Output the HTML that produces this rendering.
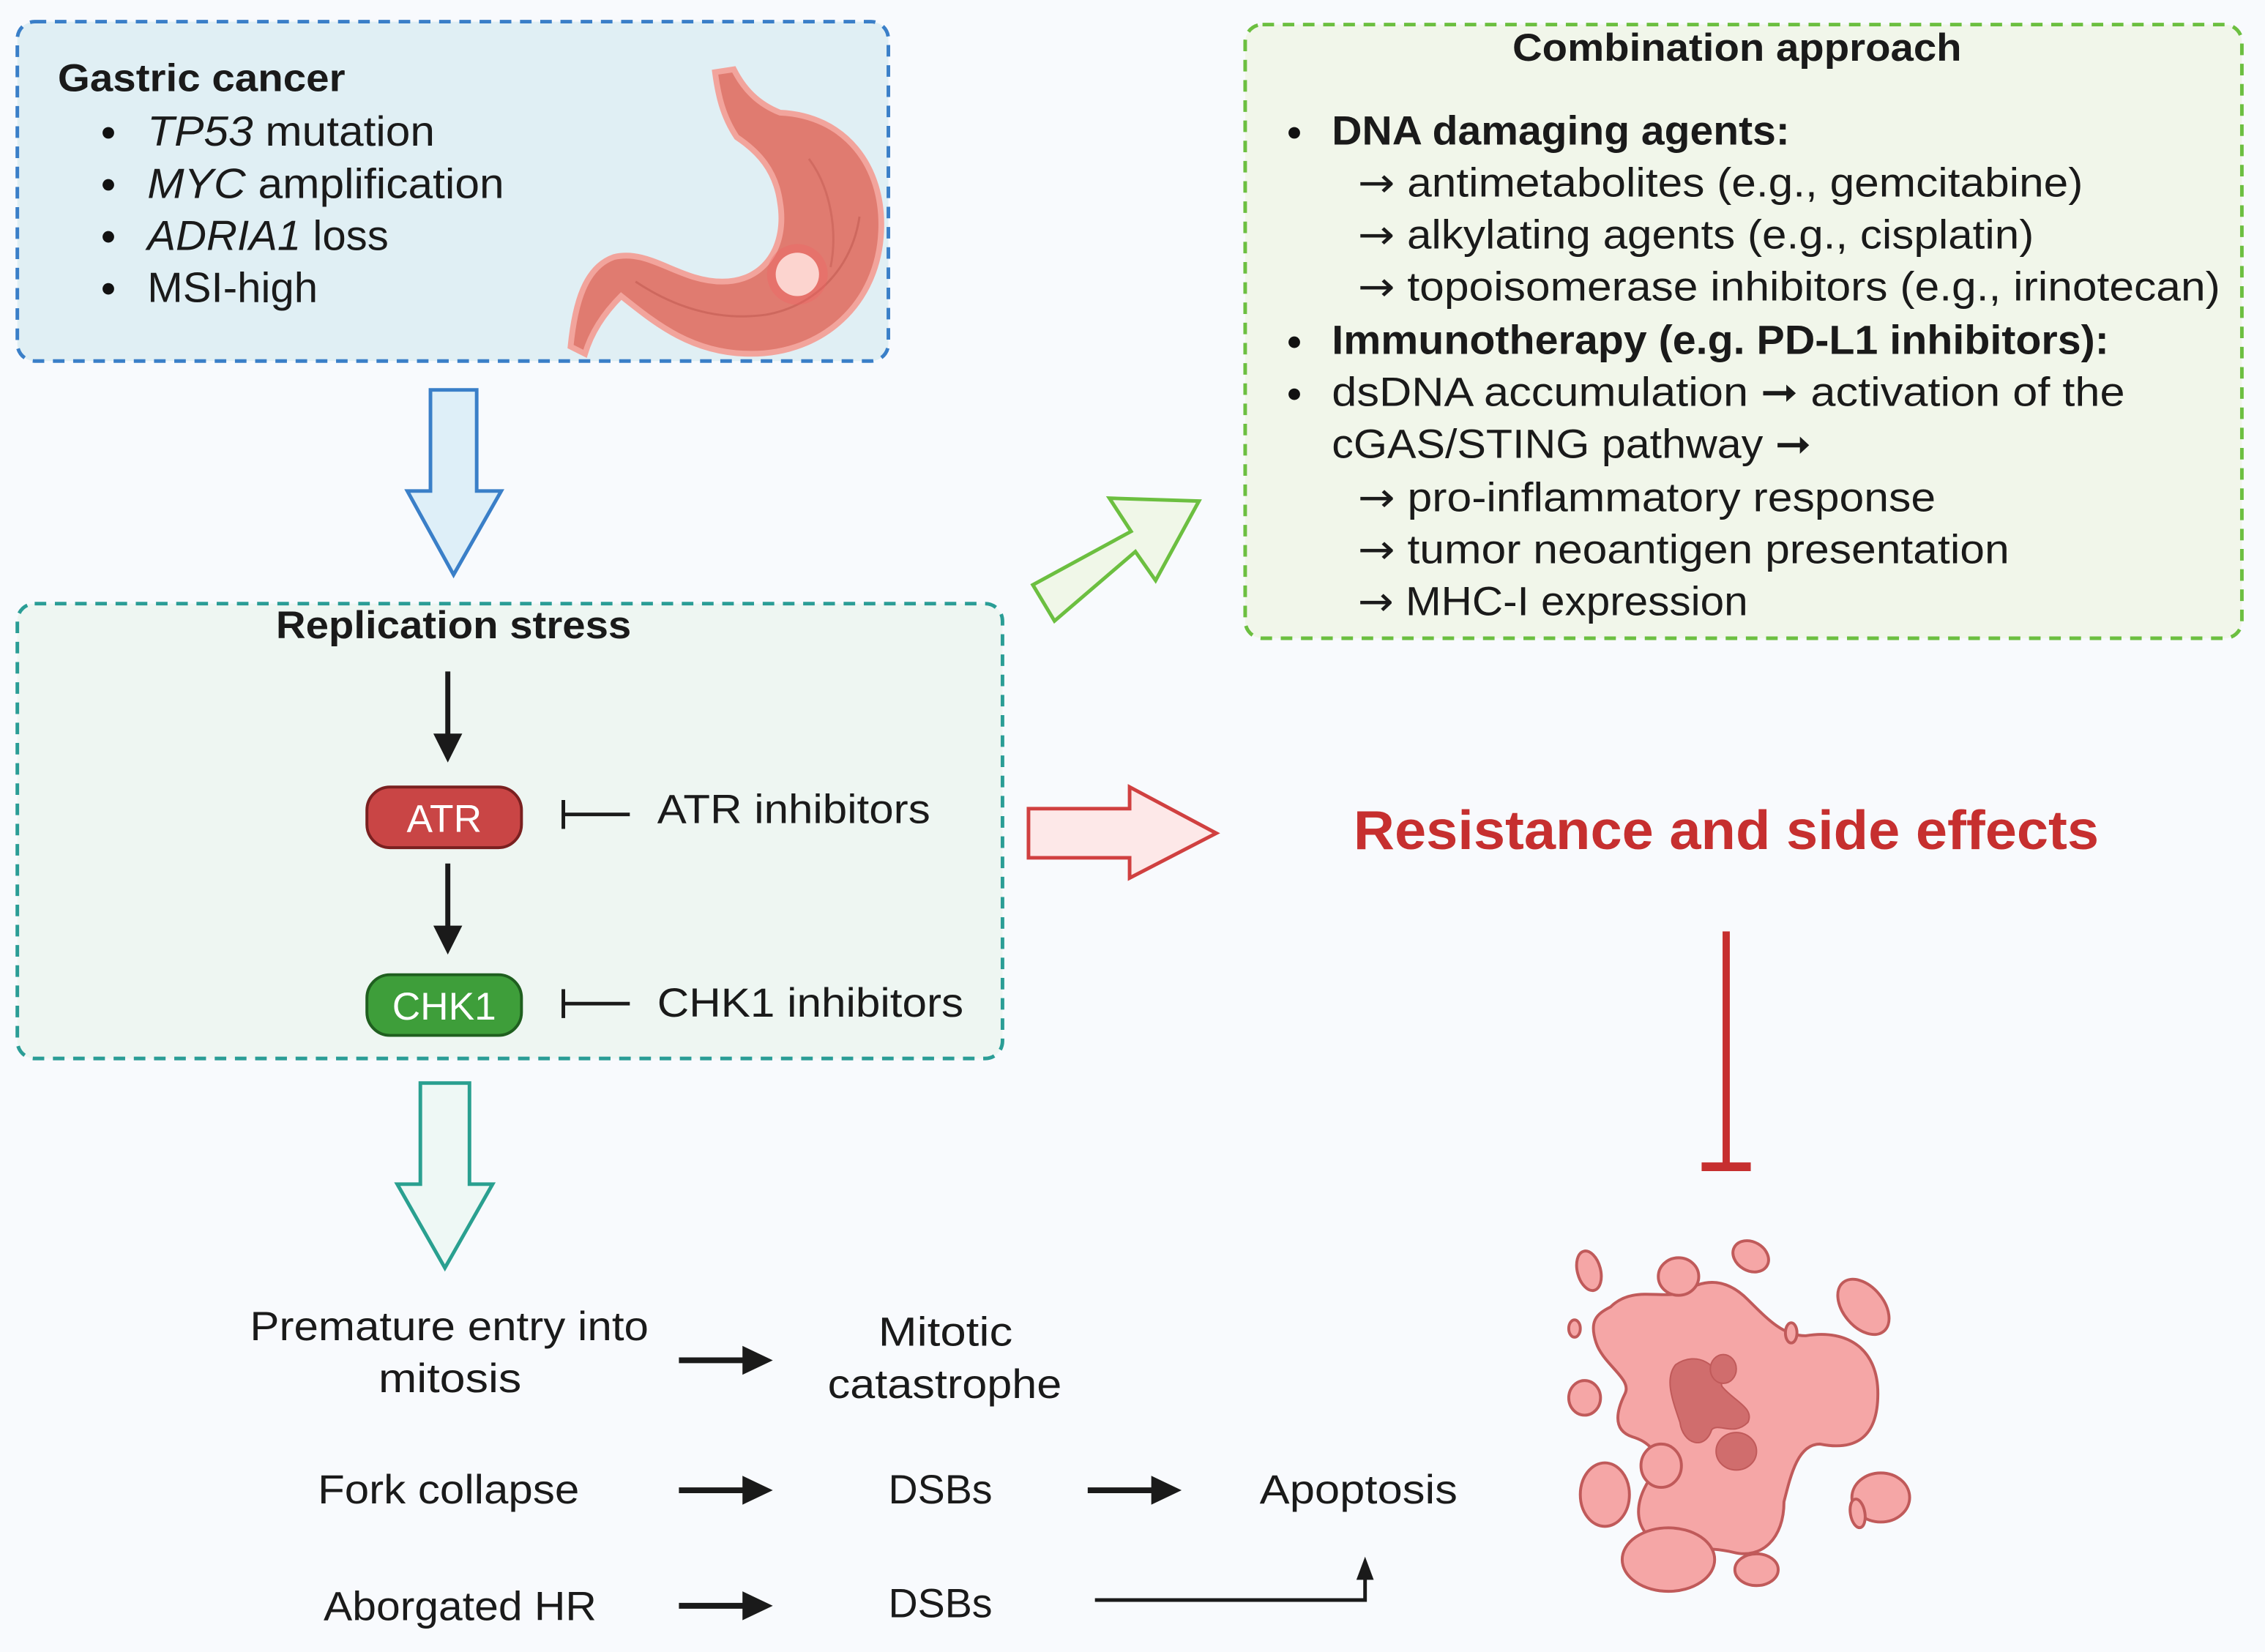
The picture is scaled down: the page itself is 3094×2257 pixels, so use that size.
<!DOCTYPE html>
<html><head><meta charset="utf-8"><style>
html,body{margin:0;padding:0;background:#f8fafd;}
svg{display:block;}
text{font-family:"Liberation Sans",Arial,sans-serif;fill:#1a1a1a;}
.b{font-weight:bold;}
.ar{font-family:"DejaVu Sans",sans-serif;}
</style></head><body>
<svg width="3094" height="2257" viewBox="0 0 1568 1144" preserveAspectRatio="none" xmlns="http://www.w3.org/2000/svg">
<rect width="1568" height="1144" fill="#f8fafd"/>

<!-- Gastric box -->
<rect x="12" y="15" width="603" height="235" rx="12" fill="#e0eff4" stroke="#3a7fc8" stroke-width="2.5" stroke-dasharray="8,6"/>
<text x="40" y="63" font-size="27" class="b" textLength="199" lengthAdjust="spacingAndGlyphs">Gastric cancer</text>
<g font-size="29">
<circle cx="75" cy="92" r="4" fill="#111"/><text x="102" y="101" textLength="199" lengthAdjust="spacingAndGlyphs"><tspan font-style="italic">TP53</tspan> mutation</text>
<circle cx="75" cy="128" r="4" fill="#111"/><text x="102" y="137" textLength="247" lengthAdjust="spacingAndGlyphs"><tspan font-style="italic">MYC</tspan> amplification</text>
<circle cx="75" cy="164" r="4" fill="#111"/><text x="102" y="173" textLength="167" lengthAdjust="spacingAndGlyphs"><tspan font-style="italic">ADRIA1</tspan> loss</text>
<circle cx="75" cy="200" r="4" fill="#111"/><text x="102" y="209" textLength="118" lengthAdjust="spacingAndGlyphs">MSI-high</text>
</g>
<!-- stomach -->
<g>
<path d="M495,50 L508,48 C515,62 525,72 540,78 C585,80 612,115 610,160 C608,210 570,245 520,245 C480,245 455,225 430,205 C420,215 410,228 405,245 L395,240 C398,210 405,185 425,178 C450,172 470,195 500,195 C530,195 545,170 540,140 C537,118 525,105 510,95 C500,80 497,65 495,50 Z" fill="#e07b70" stroke="#f2a49c" stroke-width="4"/>
<path d="M440,195 C470,215 500,222 530,218 C565,212 590,185 595,150" fill="none" stroke="#c25c52" stroke-width="1.5" opacity="0.6"/>
<path d="M560,110 C575,130 580,160 575,185" fill="none" stroke="#c25c52" stroke-width="1.5" opacity="0.5"/>
<circle cx="552" cy="190" r="21" fill="#f06060" opacity="0.35"/>
<circle cx="552" cy="190" r="15" fill="#fcd4cf"/>
</g>

<!-- Blue arrow -->
<path d="M298,270 L330,270 L330,340 L347,340 L314,398 L282,340 L298,340 Z" fill="#deeff8" stroke="#3a7fc8" stroke-width="2.5"/>

<!-- Replication box -->
<rect x="12" y="418" width="682" height="315" rx="12" fill="#eef6f2" stroke="#2a9d96" stroke-width="2.5" stroke-dasharray="8,6"/>
<text x="191" y="442" font-size="27" class="b" textLength="246" lengthAdjust="spacingAndGlyphs">Replication stress</text>
<line x1="310" y1="465" x2="310" y2="512" stroke="#1a1a1a" stroke-width="3.5"/>
<path d="M300,508 L320,508 L310,528 Z" fill="#1a1a1a"/>
<rect x="254" y="545" width="107" height="42" rx="16" fill="#c94545" stroke="#7a2020" stroke-width="2"/>
<text x="307.5" y="576" font-size="27" text-anchor="middle" style="fill:#fff">ATR</text>
<line x1="390" y1="554" x2="390" y2="574" stroke="#1a1a1a" stroke-width="2.5"/>
<line x1="390" y1="564" x2="436" y2="564" stroke="#1a1a1a" stroke-width="2.5"/>
<text x="455" y="570" font-size="28" textLength="189" lengthAdjust="spacingAndGlyphs">ATR inhibitors</text>
<line x1="310" y1="598" x2="310" y2="645" stroke="#1a1a1a" stroke-width="3.5"/>
<path d="M300,641 L320,641 L310,661 Z" fill="#1a1a1a"/>
<rect x="254" y="675" width="107" height="42" rx="16" fill="#3e9e3a" stroke="#1f5f1f" stroke-width="2"/>
<text x="307.5" y="706" font-size="27" text-anchor="middle" style="fill:#fff">CHK1</text>
<line x1="390" y1="685" x2="390" y2="705" stroke="#1a1a1a" stroke-width="2.5"/>
<line x1="390" y1="695" x2="436" y2="695" stroke="#1a1a1a" stroke-width="2.5"/>
<text x="455" y="704" font-size="28" textLength="212" lengthAdjust="spacingAndGlyphs">CHK1 inhibitors</text>

<!-- Teal arrow -->
<path d="M291,750 L325,750 L325,820 L341,820 L308,878 L275,820 L291,820 Z" fill="#eef8f5" stroke="#2aa090" stroke-width="2.5"/>

<!-- Green diagonal arrow -->
<path d="M715,405 L783,368 L768,345 L830,347 L800,402 L786,382 L730,430 Z" fill="#f0f7e8" stroke="#6cbf40" stroke-width="2.5"/>

<!-- Red arrow -->
<path d="M712,560 L782,560 L782,545 L842,577 L782,608 L782,594 L712,594 Z" fill="#fde8e8" stroke="#d04040" stroke-width="2.5"/>

<!-- Combination box -->
<rect x="862" y="17" width="690" height="425" rx="12" fill="#f1f6ea" stroke="#6cbf40" stroke-width="2.5" stroke-dasharray="8,6"/>
<text x="1047" y="42" font-size="27" class="b" textLength="311" lengthAdjust="spacingAndGlyphs">Combination approach</text>
<g font-size="28">
<circle cx="896" cy="92" r="4" fill="#111"/><text x="922" y="100" class="b" textLength="317" lengthAdjust="spacingAndGlyphs">DNA damaging agents:</text>
<text x="940" y="136" textLength="502" lengthAdjust="spacingAndGlyphs"><tspan class="ar">→</tspan> antimetabolites (e.g., gemcitabine)</text>
<text x="940" y="172" textLength="468" lengthAdjust="spacingAndGlyphs"><tspan class="ar">→</tspan> alkylating agents (e.g., cisplatin)</text>
<text x="940" y="208" textLength="597" lengthAdjust="spacingAndGlyphs"><tspan class="ar">→</tspan> topoisomerase inhibitors (e.g., irinotecan)</text>
<circle cx="896" cy="237" r="4" fill="#111"/><text x="922" y="245" class="b" textLength="538" lengthAdjust="spacingAndGlyphs">Immunotherapy (e.g. PD-L1 inhibitors):</text>
<circle cx="896" cy="273" r="4" fill="#111"/><text x="922" y="281" textLength="549" lengthAdjust="spacingAndGlyphs">dsDNA accumulation ➞ activation of the</text>
<text x="922" y="317" textLength="332" lengthAdjust="spacingAndGlyphs">cGAS/STING pathway ➞</text>
<text x="940" y="354" textLength="400" lengthAdjust="spacingAndGlyphs"><tspan class="ar">→</tspan> pro-inflammatory response</text>
<text x="940" y="390" textLength="451" lengthAdjust="spacingAndGlyphs"><tspan class="ar">→</tspan> tumor neoantigen presentation</text>
<text x="940" y="426" textLength="270" lengthAdjust="spacingAndGlyphs"><tspan class="ar">→</tspan> MHC-I expression</text>
</g>

<!-- Resistance -->
<text x="937" y="588" font-size="38" class="b" style="fill:#c62f2f" textLength="516" lengthAdjust="spacingAndGlyphs">Resistance and side effects</text>
<line x1="1195" y1="645" x2="1195" y2="808" stroke="#c62f2f" stroke-width="5"/>
<line x1="1178" y1="808" x2="1212" y2="808" stroke="#c62f2f" stroke-width="6"/>

<!-- Tumor -->
<g fill="#f5a6a6" stroke="#c05a5a" stroke-width="2">
<path d="M1115,905 C1130,890 1150,900 1165,895 C1180,885 1195,885 1210,900 C1225,915 1235,925 1250,925 C1280,920 1300,935 1300,965 C1300,995 1285,1005 1260,1000 C1245,1000 1240,1020 1235,1040 C1235,1065 1220,1080 1200,1075 C1180,1070 1165,1075 1150,1070 C1130,1060 1130,1040 1145,1020 C1150,1005 1140,998 1130,995 C1115,990 1120,975 1125,965 C1130,955 1110,945 1105,930 C1100,915 1105,910 1115,905 Z"/>
<ellipse cx="1150" cy="1015" rx="14" ry="15"/>
<ellipse cx="1162" cy="884" rx="14" ry="13"/>
<ellipse cx="1100" cy="880" rx="8" ry="14" transform="rotate(-15 1100 880)"/>
<ellipse cx="1090" cy="920" rx="4" ry="6"/>
<ellipse cx="1097" cy="968" rx="11" ry="12"/>
<ellipse cx="1111" cy="1035" rx="17" ry="22"/>
<ellipse cx="1212" cy="870" rx="13" ry="10" transform="rotate(30 1212 870)"/>
<ellipse cx="1290" cy="905" rx="14" ry="22" transform="rotate(-40 1290 905)"/>
<ellipse cx="1240" cy="923" rx="4" ry="7"/>
<ellipse cx="1302" cy="1037" rx="20" ry="17"/>
<ellipse cx="1286" cy="1048" rx="5" ry="10" transform="rotate(-10 1286 1048)"/>
<ellipse cx="1155" cy="1080" rx="32" ry="22"/>
<ellipse cx="1216" cy="1087" rx="15" ry="11"/>
</g>
<g fill="#d06d6d" stroke="#c05a5a" stroke-width="1">
<path d="M1160,945 C1175,935 1190,945 1192,960 C1200,970 1215,975 1210,985 C1200,995 1190,985 1185,990 C1180,1005 1165,1000 1163,985 C1158,970 1152,955 1160,945 Z"/>
<ellipse cx="1202" cy="1005" rx="14" ry="13"/>
<ellipse cx="1193" cy="948" rx="9" ry="10"/>
</g>

<!-- Bottom flow -->
<g font-size="28">
<text x="173" y="928" textLength="276" lengthAdjust="spacingAndGlyphs">Premature entry into</text>
<text x="262" y="964" textLength="99" lengthAdjust="spacingAndGlyphs">mitosis</text>
<text x="608" y="932" textLength="93" lengthAdjust="spacingAndGlyphs">Mitotic</text>
<text x="573" y="968" textLength="162" lengthAdjust="spacingAndGlyphs">catastrophe</text>
<text x="220" y="1041" textLength="181" lengthAdjust="spacingAndGlyphs">Fork collapse</text>
<text x="615" y="1041" textLength="72" lengthAdjust="spacingAndGlyphs">DSBs</text>
<text x="872" y="1041" textLength="137" lengthAdjust="spacingAndGlyphs">Apoptosis</text>
<text x="224" y="1122" textLength="189" lengthAdjust="spacingAndGlyphs">Aborgated HR</text>
<text x="615" y="1120" textLength="72" lengthAdjust="spacingAndGlyphs">DSBs</text>
</g>
<g stroke="#1a1a1a" stroke-width="4">
<line x1="470" y1="942" x2="518" y2="942"/>
<line x1="470" y1="1032" x2="518" y2="1032"/>
<line x1="753" y1="1032" x2="801" y2="1032"/>
<line x1="470" y1="1112" x2="518" y2="1112"/>
</g>
<g fill="#1a1a1a">
<path d="M514,932 L535,942 L514,952 Z"/>
<path d="M514,1022 L535,1032 L514,1042 Z"/>
<path d="M797,1022 L818,1032 L797,1042 Z"/>
<path d="M514,1102 L535,1112 L514,1122 Z"/>
<path d="M939,1094 L945,1078 L951,1094 Z"/>
</g>
<polyline points="758,1108 945,1108 945,1090" fill="none" stroke="#1a1a1a" stroke-width="2.5"/>
</svg>
</body></html>
